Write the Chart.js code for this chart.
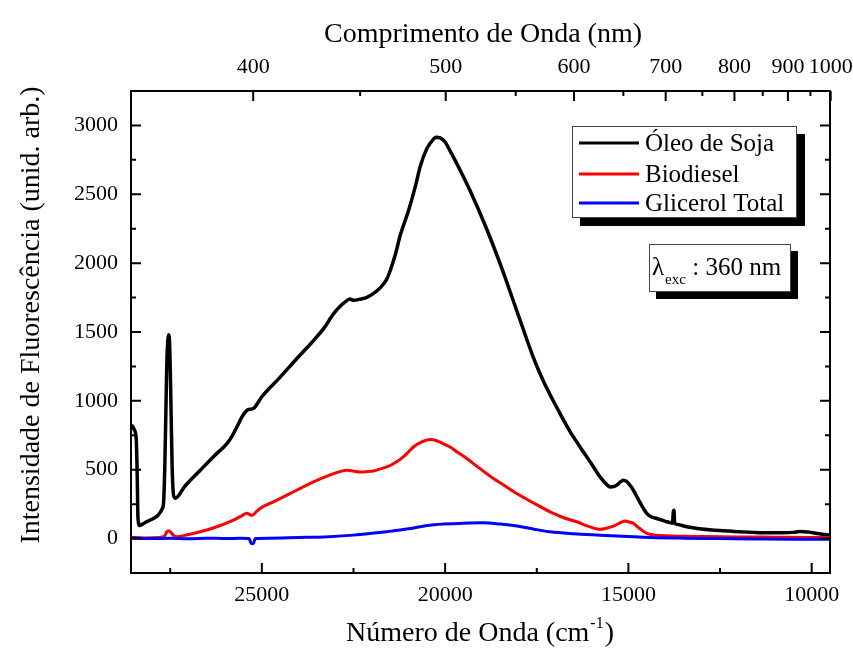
<!DOCTYPE html>
<html>
<head>
<meta charset="utf-8">
<script src="https://cdn.jsdelivr.net/npm/chart.js@4.4.1/dist/chart.umd.min.js"></script>
<style>
  html, body { margin: 0; padding: 0; background: #fff; }
  canvas { display: block; }
</style>
</head>
<body>
<canvas id="spectra" width="853" height="653"></canvas>
<script>
// wavenumber (cm-1) and intensity
const oilWn = [28570, 28544, 28480, 28427, 28400, 28380, 28337, 28250, 28146, 28000, 27850, 27772, 27720, 27682,
  27650, 27620, 27595, 27565, 27545, 27520, 27500, 27475, 27450, 27420, 27390, 27363, 27100, 26681, 26300,
  25953, 25800, 25681, 25550, 25408, 25300, 25227, 25000, 24500, 24000, 23591, 23300, 23046, 22850, 22682,
  22600, 22500, 22300, 22136, 21950, 21773, 21600, 21500, 21350, 21227, 21000, 20800, 20682, 20500, 20319,
  20250, 20136, 20000, 19864, 19600, 19318, 18900, 18500, 18000, 17600, 17327, 16864, 16600, 16318, 16000,
  15773, 15600, 15500, 15400, 15318, 15200, 15136, 15050, 14950, 14864, 14700, 14500, 14350, 14227, 14100,
  13955, 13850, 13800, 13770, 13755, 13740, 13700, 13409, 13000, 12500, 12136, 11600, 11227, 10800, 10500,
  10318, 10100, 9800, 9500];
const oilI = [810, 820, 790, 720, 450, 150, 95, 105, 122, 140, 165, 190, 215, 260,
  500, 900, 1250, 1440, 1480, 1430, 1250, 900, 550, 340, 300, 293, 380, 496, 600,
  690, 750, 810, 880, 931, 940, 945, 1030, 1172, 1320, 1438, 1530, 1632, 1690, 1728,
  1740, 1730, 1740, 1752, 1780, 1820, 1880, 1945, 2070, 2200, 2380, 2570, 2700, 2830, 2900,
  2915, 2910, 2880, 2815, 2680, 2525, 2270, 1996, 1620, 1320, 1148, 907, 780, 665, 540,
  448, 395, 375, 378, 388, 415, 424, 415, 385, 351, 270, 183, 155, 146, 135,
  122, 115, 112, 200, 205, 115, 105, 86, 70, 58, 52, 45, 42, 42, 45,
  52, 48, 35, 25];

const bioWn = [28570, 28200, 27800, 27650, 27590, 27545, 27480, 27400, 27318, 27000, 26681, 26227, 25773, 25550,
  25409, 25330, 25272, 25150, 25045, 24700, 24318, 23950, 23591, 23300, 23045, 22850, 22682, 22500, 22318,
  22150, 21955, 21800, 21591, 21400, 21227, 21050, 20864, 20650, 20409, 20250, 20100, 19864, 19650, 19409,
  19050, 18682, 18350, 18045, 17600, 17136, 16800, 16409, 16100, 15773, 15600, 15409, 15200, 15091, 14980,
  14864, 14700, 14500, 14250, 13955, 13500, 13000, 12000, 11000, 10000, 9500];
const bioI = [10, 5, 8, 20, 50, 57, 45, 20, 13, 30, 49, 86, 134, 165,
  183, 175, 168, 195, 219, 265, 315, 365, 412, 445, 472, 488, 496, 490, 484,
  486, 491, 503, 520, 545, 575, 615, 665, 700, 719, 712, 695, 665, 625, 581,
  508, 436, 380, 327, 260, 194, 155, 122, 90, 67, 75, 90, 118, 127, 120,
  110, 75, 38, 25, 20, 17, 15, 12, 10, 8, 8];

const glyWn = [28570, 28000, 27500, 27000, 26500, 26000, 25600, 25350, 25300, 25272, 25220, 25180, 24800, 24000,
  23300, 22500, 22000, 21600, 21227, 20900, 20682, 20300, 20055, 19500, 18955, 18500, 18045, 17600, 17136,
  16500, 15773, 15000, 14409, 13500, 12500, 11500, 10500, 9500];
const glyI = [5, 0, 2, -2, 3, 0, 2, 0, -30, -38, -30, 0, 3, 8,
  12, 25, 38, 50, 62, 75, 86, 100, 105, 112, 115, 105, 91, 70, 49,
  35, 25, 15, 8, 3, 0, -3, -5, -5];

const seriesNames = ['Óleo de Soja', 'Biodiesel', 'Glicerol Total'];
const seriesColors = ['#000000', '#ff0000', '#0000ff'];

// axes
const X_MIN = 9500, X_MAX = 28570;
const Y_MIN = -250, Y_MAX = 3250;
const bottomMajor = [25000, 20000, 15000, 10000];
const bottomMinor = [27500, 22500, 17500, 12500];
const yMajor = [0, 500, 1000, 1500, 2000, 2500, 3000];
const yMinor = [250, 750, 1250, 1750, 2250, 2750];
// top axis (nm) is drawn on its own reciprocal scale, as in the figure
const TOP_MIN = 10018, TOP_MAX = 28174;
const topMajor = [400, 500, 600, 700, 800, 900, 1000];
const topMinor = [450, 550, 650, 750, 850, 950];

const SERIF = "'Liberation Serif', 'Times New Roman', serif";

function pts(xs, ys) {
  return xs.map((x, i) => ({ x: x, y: ys[i] }));
}

// keep the plot box fixed, whatever the edge labels want
function fixBox(size) {
  return s => {
    if (s.isHorizontal()) s.height = size; else s.width = size;
    s.paddingLeft = s.paddingRight = s.paddingTop = s.paddingBottom = 0;
  };
}

const frameTicks = {
  id: 'frameTicks',
  afterDatasetsDraw(chart) {
    const { ctx, chartArea: a, scales } = chart;
    const big = 10, small = 5;
    ctx.save();
    ctx.strokeStyle = '#000';
    ctx.lineWidth = 2;
    ctx.beginPath();
    bottomMajor.concat(bottomMinor).forEach(v => {
      const px = scales.x.getPixelForValue(v);
      ctx.moveTo(px, a.bottom);
      ctx.lineTo(px, a.bottom - (bottomMajor.includes(v) ? big : small));
    });
    topMajor.concat(topMinor).forEach(nm => {
      const px = scales.xTop.getPixelForValue(1e7 / nm);
      ctx.moveTo(px, a.top);
      ctx.lineTo(px, a.top + (topMajor.includes(nm) ? big : small));
    });
    yMajor.concat(yMinor).forEach(v => {
      const py = scales.y.getPixelForValue(v);
      const len = yMajor.includes(v) ? big : small;
      ctx.moveTo(a.left, py);
      ctx.lineTo(a.left + len, py);
      ctx.moveTo(a.right, py);
      ctx.lineTo(a.right - len, py);
    });
    ctx.stroke();
    ctx.strokeRect(a.left, a.top, a.right - a.left, a.bottom - a.top);
    ctx.restore();
  }
};

function shadowBox(ctx, x, y, w, h, off) {
  ctx.fillStyle = '#000';
  ctx.fillRect(x + off, y + off, w, h);
  ctx.fillStyle = '#fff';
  ctx.fillRect(x, y, w, h);
  ctx.strokeStyle = '#444';
  ctx.lineWidth = 1;
  ctx.strokeRect(x + 0.5, y + 0.5, w - 1, h - 1);
}

const labelsAndLegend = {
  id: 'labelsAndLegend',
  afterDraw(chart) {
    const ctx = chart.ctx;
    ctx.save();

    // legend
    shadowBox(ctx, 572, 126, 225, 92, 8);
    const rows = [143, 174, 203];
    chart.data.datasets.forEach((ds, i) => {
      ctx.strokeStyle = ds.borderColor;
      ctx.lineWidth = 3;
      ctx.beginPath();
      ctx.moveTo(579, rows[i]);
      ctx.lineTo(639, rows[i]);
      ctx.stroke();
      ctx.fillStyle = '#000';
      ctx.font = '25px ' + SERIF;
      ctx.textAlign = 'left';
      ctx.textBaseline = 'middle';
      ctx.fillText(ds.label, 645, rows[i] + 1);
    });

    // excitation wavelength box
    shadowBox(ctx, 649, 244, 142, 48, 7);
    ctx.fillStyle = '#000';
    ctx.textBaseline = 'alphabetic';
    ctx.textAlign = 'left';
    ctx.font = '25px ' + SERIF;
    ctx.fillText('λ', 652, 275);
    let x = 652 + ctx.measureText('λ').width + 1;
    ctx.font = '15px ' + SERIF;
    ctx.fillText('exc', x, 284);
    x += ctx.measureText('exc').width;
    ctx.font = '25px ' + SERIF;
    ctx.fillText(' : 360 nm', x, 275);

    // axis titles
    ctx.font = '28px ' + SERIF;
    ctx.textAlign = 'center';
    ctx.fillText('Comprimento de Onda (nm)', 483, 42);

    ctx.save();
    ctx.translate(39, 315);
    ctx.rotate(-Math.PI / 2);
    ctx.fillText('Intensidade de Fluorescência (unid. arb.)', 0, 0);
    ctx.restore();

    const a = 'Número de Onda (cm', sup = '-1', b = ')';
    ctx.font = '28px ' + SERIF;
    const wa = ctx.measureText(a).width, wb = ctx.measureText(b).width;
    ctx.font = '16px ' + SERIF;
    const ws = ctx.measureText(sup).width;
    let bx = 480 - (wa + ws + wb + 2) / 2;
    ctx.textAlign = 'left';
    ctx.font = '28px ' + SERIF;
    ctx.fillText(a, bx, 641);
    bx += wa + 1;
    ctx.font = '16px ' + SERIF;
    ctx.fillText(sup, bx, 628);
    bx += ws + 1;
    ctx.font = '28px ' + SERIF;
    ctx.fillText(b, bx, 641);

    ctx.restore();
  }
};

const tickFont = { family: SERIF, size: 22 };

new Chart(document.getElementById('spectra'), {
  type: 'line',
  data: {
    datasets: [
      { label: seriesNames[0], data: pts(oilWn, oilI), borderColor: seriesColors[0], borderWidth: 3.5, order: 2 },
      { label: seriesNames[1], data: pts(bioWn, bioI), borderColor: seriesColors[1], order: 1 },
      { label: seriesNames[2], data: pts(glyWn, glyI), borderColor: seriesColors[2], order: 0 }
    ]
  },
  options: {
    responsive: false,
    animation: false,
    events: [],
    layout: { padding: { left: 0, right: 23, top: 0, bottom: 0 } },
    elements: {
      line: { borderWidth: 3, cubicInterpolationMode: 'monotone', fill: false },
      point: { radius: 0 }
    },
    plugins: { legend: { display: false }, tooltip: { enabled: false } },
    scales: {
      x: {
        type: 'linear', position: 'bottom', reverse: true, min: X_MIN, max: X_MAX,
        afterBuildTicks: s => { s.ticks = bottomMajor.concat(bottomMinor).sort((p, q) => q - p).map(v => ({ value: v })); },
        afterFit: fixBox(80),
        grid: { display: false, drawTicks: false },
        border: { display: false },
        ticks: {
          autoSkip: false, maxRotation: 0, padding: 9, color: '#000', font: tickFont,
          callback: v => bottomMajor.includes(v) ? String(v) : ''
        }
      },
      xTop: {
        type: 'linear', position: 'top', reverse: true, min: TOP_MIN, max: TOP_MAX,
        afterBuildTicks: s => { s.ticks = topMajor.concat(topMinor).sort((p, q) => p - q).map(nm => ({ value: 1e7 / nm })); },
        afterFit: fixBox(91),
        grid: { display: false, drawTicks: false },
        border: { display: false },
        ticks: {
          autoSkip: false, maxRotation: 0, padding: 11, color: '#000', font: tickFont,
          callback: v => {
            const nm = Math.round(1e7 / v);
            return topMajor.includes(nm) ? String(nm) : '';
          }
        }
      },
      y: {
        type: 'linear', position: 'left', min: Y_MIN, max: Y_MAX,
        afterBuildTicks: s => { s.ticks = yMajor.concat(yMinor).sort((p, q) => p - q).map(v => ({ value: v })); },
        afterFit: fixBox(131),
        grid: { display: false, drawTicks: false },
        border: { display: false },
        ticks: {
          autoSkip: false, padding: 13, color: '#000', font: tickFont,
          callback: v => yMajor.includes(v) ? String(v) : ''
        }
      }
    }
  },
  plugins: [frameTicks, labelsAndLegend]
});
</script>
</body>
</html>
